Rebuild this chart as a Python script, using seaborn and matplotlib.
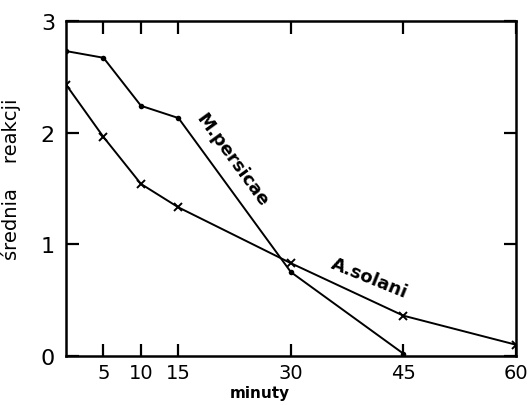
import matplotlib
matplotlib.use("Agg")
import matplotlib.pyplot as plt
import numpy as np
import pandas as pd
import seaborn as sns

# ─── Data ─────────────────────────────────────────────────────────
persicae_min = [0, 5, 10, 15, 30, 45]
persicae_val = [2.73, 2.67, 2.24, 2.13, 0.75, 0.02]

solani_min = [0, 5, 10, 15, 30, 45, 60]
solani_val = [2.43, 1.96, 1.54, 1.33, 0.83, 0.36, 0.10]

x_ticks = [5, 10, 15, 30, 45, 60]
y_ticks = [0, 1, 2, 3]

df_p = pd.DataFrame({"minuty": persicae_min, "reakcja": persicae_val})
df_s = pd.DataFrame({"minuty": solani_min, "reakcja": solani_val})

# ─── Plot ─────────────────────────────────────────────────────────
sns.set_style("ticks")
plt.rcParams["font.family"] = ["DejaVu Sans"]
plt.rcParams["text.color"] = "black"
plt.rcParams["axes.labelcolor"] = "black"

fig = plt.figure(figsize=(5.28, 4.06), dpi=100)
ax = fig.add_axes([0.125, 0.121, 0.852, 0.825])

sns.lineplot(data=df_p, x="minuty", y="reakcja", color="black", linewidth=1.4,
             marker="o", markersize=4, markeredgewidth=0, ax=ax)
sns.lineplot(data=df_s, x="minuty", y="reakcja", color="black", linewidth=1.4,
             marker="x", markersize=6, markeredgewidth=1.4,
             markeredgecolor="black", ax=ax)

ax.set_xlim(0, 60)
ax.set_ylim(0, 3)
ax.set_xticks(x_ticks)
ax.set_yticks(y_ticks)
ax.tick_params(direction="in", length=9, width=1.6, top=True, right=True,
               colors="black")
ax.tick_params(axis="x", labelsize=14, pad=5)
ax.tick_params(axis="y", labelsize=16, pad=8)
for s in ax.spines.values():
    s.set_visible(True)
    s.set_linewidth(1.8)
    s.set_color("black")

ax.set_xlabel("minuty", fontsize=11, fontweight="bold")
ax.xaxis.set_label_coords(0.43, -0.088)
ax.set_ylabel("średnia    reakcji", fontsize=14)
ax.yaxis.set_label_coords(-0.1, 0.53)

ax.text(22.1, 1.76, "M.persicae", rotation=-54, fontsize=13, fontweight="bold",
        ha="center", va="center", rotation_mode="anchor", color="black")
ax.text(40.5, 0.70, "A.solani", rotation=-22, fontsize=13, fontweight="bold",
        ha="center", va="center", rotation_mode="anchor", color="black")

plt.savefig("out.png", dpi=100)
plt.close()
